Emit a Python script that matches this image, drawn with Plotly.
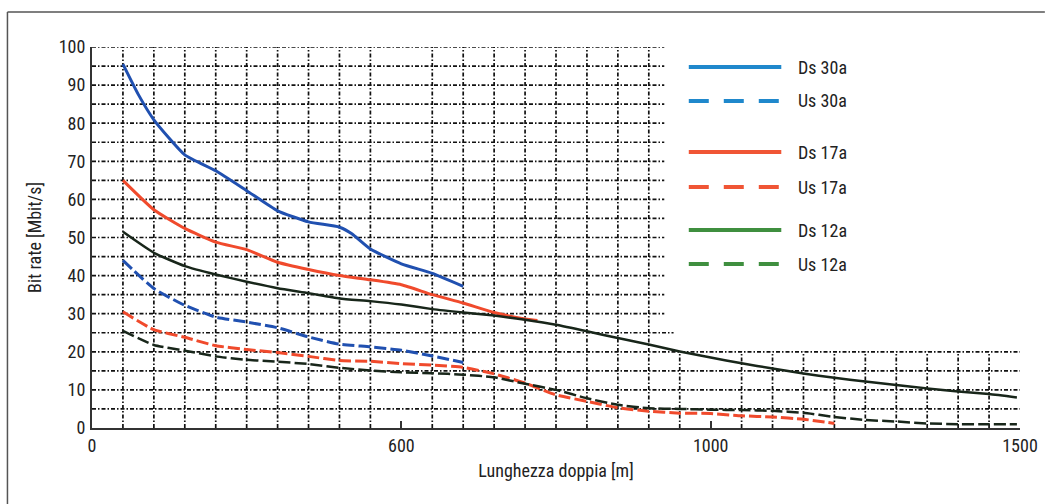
import plotly.graph_objects as go

# ---- data (x in grid metres, y in Mbit/s) ----
series_names = ["Ds 30a", "Us 30a", "Ds 17a", "Us 17a", "Ds 12a", "Us 12a"]

x_ds30 = [50, 75, 100, 150, 200, 250, 300, 350, 400, 420, 450, 500, 550, 600]
ds30 = [95.5, 87.5, 80.9, 71.7, 67.5, 62.3, 57.0, 54.1, 52.7, 51.0, 47.0, 43.1, 40.6, 37.2]

x_us30 = [50, 100, 150, 200, 250, 300, 350, 400, 450, 500, 550, 600]
us30 = [44.0, 36.6, 32.2, 29.1, 27.8, 26.3, 23.9, 22.0, 21.3, 20.4, 18.9, 17.2]

x_ds17 = [50, 100, 150, 200, 250, 300, 350, 400, 450, 500, 550, 600, 650, 700, 720]
ds17 = [65.0, 57.3, 52.4, 48.8, 46.8, 43.5, 41.6, 40.0, 38.9, 37.6, 35.0, 32.8, 30.3, 28.6, 28.2]

x_us17 = [50, 100, 150, 200, 250, 300, 350, 400, 450, 500, 550, 600, 650, 700,
          750, 800, 850, 900, 950, 1000, 1050, 1100, 1150, 1200]
us17 = [30.5, 25.8, 23.8, 21.6, 20.6, 19.8, 18.8, 17.7, 17.5, 16.9, 16.5, 15.9, 14.2, 11.8,
        8.7, 7.0, 5.3, 4.4, 3.9, 3.8, 3.2, 2.9, 2.3, 1.2]

x_ds12 = [50, 100, 150, 200, 250, 300, 350, 400, 450, 500, 550, 600, 650, 700, 750,
          800, 850, 900, 950, 1000, 1050, 1100, 1150, 1200, 1250, 1300, 1350, 1400, 1450, 1495]
ds12 = [51.5, 46.0, 42.5, 40.3, 38.4, 36.7, 35.4, 34.0, 33.3, 32.4, 31.2, 30.3, 29.5, 28.4, 27.1,
        25.4, 23.6, 21.9, 20.1, 18.5, 17.0, 15.6, 14.3, 13.2, 12.2, 11.3, 10.4, 9.6, 8.9, 8.0]

x_us12 = x_ds12
us12 = [25.5, 21.8, 20.3, 18.8, 17.9, 17.4, 16.8, 15.8, 15.1, 14.6, 14.4, 14.0, 13.3, 11.6, 10.0,
        7.8, 6.1, 5.2, 5.0, 4.8, 4.7, 4.5, 4.0, 2.9, 2.1, 1.7, 1.2, 1.0, 1.0, 1.0]

x_tickvals = [0, 500, 1000, 1500]
x_ticktext = ["0", "600", "1000", "1500"]
y_tickvals = list(range(0, 101, 10))

# ---- style ----
FONT = "Liberation Sans Narrow, Roboto Condensed, DejaVu Sans Condensed, Arial Narrow, Liberation Sans, sans-serif"
W, H = 1050, 504
L, R, T, B = 92, 25, 47, 76
plot_colors = ["#2050b0", "#2050b0", "#f04a2c", "#f04a2c", "#18261a", "#18261a"]
legend_colors = ["#1f88cc", "#1f88cc", "#f05535", "#f05535", "#3f8f3f", "#3f8f3f"]
dashes = ["solid", "12px,4px", "solid", "12px,4px", "solid", "12px,4px"]
widths = [3, 3, 3, 3, 2.5, 2.5]

xs = [x_ds30, x_us30, x_ds17, x_us17, x_ds12, x_us12]
ys = [ds30, us30, ds17, us17, ds12, us12]

fig = go.Figure()
for name, x, y, c, d, w in zip(series_names, xs, ys, plot_colors, dashes, widths):
    fig.add_trace(go.Scatter(x=x, y=y, name=name, mode="lines",
                             line=dict(color=c, dash=d, width=w, shape="spline", smoothing=0.5),
                             showlegend=False))

# ---- dash-dot grid, partial like the reference ----
grid_style = dict(color="#111111", width=1.7, dash="4px,2px,1.5px,2px")
shapes = []
for gx in range(50, 1500, 50):
    if gx in (500, 1000):
        continue
    top = 100 if gx <= 900 else 20
    shapes.append(dict(type="line", xref="x", yref="y", x0=gx, x1=gx, y0=0, y1=top,
                       line=grid_style, layer="below"))
for gy in range(5, 101, 5):
    right = 1500 if gy <= 20 else (940 if gy == 25 else 925)
    shapes.append(dict(type="line", xref="x", yref="y", x0=0, x1=right, y0=gy, y1=gy,
                       line=grid_style, layer="below"))

pw, ph = W - L - R, H - T - B
def px(xp):
    return (xp - L) / pw
def py(yp):
    return (H - B - yp) / ph

# outer frame (left + top)
shapes.append(dict(type="line", xref="paper", yref="paper", x0=px(7), x1=px(7), y0=py(12), y1=py(504),
                   line=dict(color="#555555", width=1.5)))
shapes.append(dict(type="line", xref="paper", yref="paper", x0=px(7), x1=px(1050), y0=py(12), y1=py(12),
                   line=dict(color="#555555", width=1.5)))

# ---- manual legend ----
legend_rows = [67, 101, 152, 187, 230, 264]
legend_dash = ["solid", "20px,15px", "solid", "20px,15px", "solid", "20px,15px"]
annotations = []
for name, c, d, yr in zip(series_names, legend_colors, legend_dash, legend_rows):
    shapes.append(dict(type="line", xref="paper", yref="paper", x0=px(692), x1=px(785),
                       y0=py(yr), y1=py(yr), line=dict(color=c, width=4, dash=d)))
    annotations.append(dict(xref="paper", yref="paper", x=px(800), y=py(yr), text=name,
                            showarrow=False, xanchor="left", yanchor="middle",
                            font=dict(family=FONT, size=18, color="#222222")))

fig.update_layout(
    width=W, height=H,
    margin=dict(l=L, r=R, t=T, b=B, pad=0),
    paper_bgcolor="white", plot_bgcolor="white",
    font=dict(family=FONT, size=18, color="#222222"),
    shapes=shapes, annotations=annotations,
    showlegend=False,
    xaxis=dict(range=[0, 1500], tickvals=x_tickvals, ticktext=x_ticktext,
               showgrid=False, zeroline=False, showline=True, linecolor="#333333", linewidth=2,
               ticks="inside", ticklen=7, tickwidth=2, tickcolor="#333333",
               ticklabelstandoff=0,
               title=dict(text="Lunghezza doppia [m]", standoff=10, font=dict(size=18))),
    yaxis=dict(range=[0, 100], tickvals=y_tickvals, showgrid=False, zeroline=False,
               showline=True, linecolor="#333333", linewidth=2, ticks="",
               ticklabelstandoff=1,
               title=dict(text="Bit rate [Mbit/s]", standoff=12, font=dict(size=18))),
)

fig.write_html("out.html", config={"displayModeBar": False},
               post_script="document.body.style.margin='0';document.body.style.overflow='hidden';")
